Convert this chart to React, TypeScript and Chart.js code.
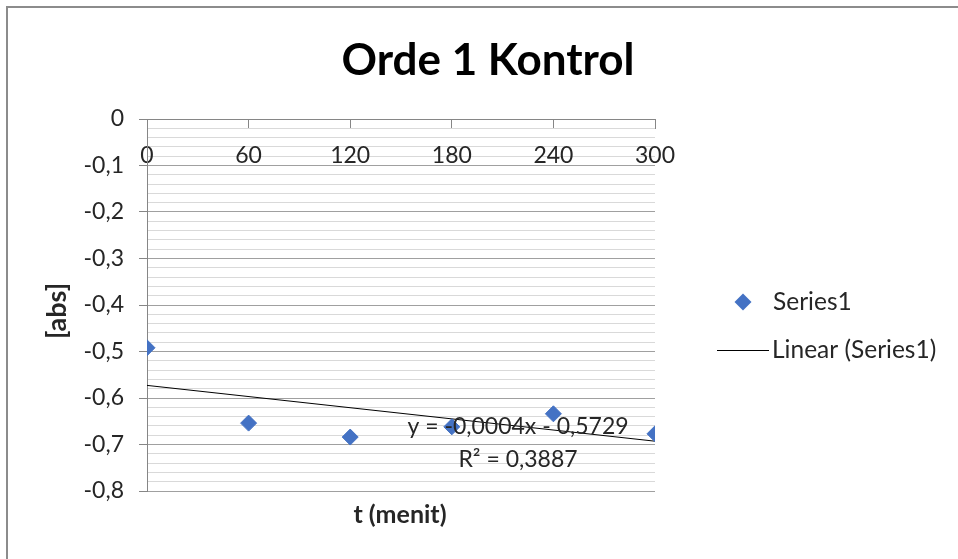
import React, { useEffect, useRef } from 'react';
import { Chart, registerables } from 'chart.js';

Chart.register(...registerables);

// ---- data ----
const TITLE = 'Orde 1 Kontrol';
const X_TITLE = 't (menit)';
const Y_TITLE = '[abs]';
const SERIES_NAME = 'Series1';
const TREND_NAME = 'Linear (Series1)';
const TIME_MIN = [0, 60, 120, 180, 240, 300];
const ABS_VALUES = [-0.492, -0.654, -0.684, -0.662, -0.634, -0.677];
const TREND_SLOPE = -0.0004;
const TREND_INTERCEPT = -0.5729;
const TREND_EQUATION = 'y = -0,0004x - 0,5729';
const TREND_R2 = 'R² = 0,3887';
const X_MIN = 0;
const X_MAX = 300;
const X_STEP = 60;
const Y_MIN = -0.8;
const Y_MAX = 0;
const Y_MINOR = 0.02;

const FONT = 'Lato, "Open Sans", sans-serif';
const TEXT = '#262626';
const BLUE = '#4472C4';

const isMajor = (v: number) => Math.abs(Math.round(v * 10) - v * 10) < 1e-6;
const fmt = (v: number) => (Math.abs(v) < 1e-9 ? '0' : v.toFixed(1).replace('.', ','));

const decor = {
  id: 'decor',
  beforeDraw(chart: any) {
    const c = chart.ctx;
    c.save();
    c.fillStyle = '#ffffff';
    c.fillRect(0, 0, chart.width, chart.height);
    c.fillStyle = '#8c8c8c';
    c.fillRect(6, 6, chart.width, 2);
    c.fillRect(6, 6, 2, chart.height);
    c.restore();
  },
  afterDatasetsDraw(chart: any) {
    const c = chart.ctx;
    c.save();
    c.fillStyle = TEXT;
    c.font = `23px ${FONT}`;
    c.textAlign = 'center';
    c.textBaseline = 'alphabetic';
    c.fillText(TREND_EQUATION, 518, 434);
    c.fillText(TREND_R2, 518, 467);
    c.restore();
  },
  afterDraw(chart: any) {
    const c = chart.ctx;
    c.save();
    // title
    c.fillStyle = '#000';
    c.font = `bold 44px ${FONT}`;
    c.textAlign = 'center';
    c.textBaseline = 'alphabetic';
    c.fillText(TITLE, 488, 75);
    // x title
    c.fillStyle = TEXT;
    c.font = `bold 25px ${FONT}`;
    c.fillText(X_TITLE, 400, 523);
    // y title
    c.save();
    c.translate(57, 311);
    c.rotate(-Math.PI / 2);
    c.textBaseline = 'middle';
    c.font = `bold 27px ${FONT}`;
    c.fillText(Y_TITLE, 0, 0);
    c.restore();
    // legend
    c.fillStyle = BLUE;
    c.beginPath();
    c.moveTo(743 - 8.5, 302);
    c.lineTo(743, 302 - 8.5);
    c.lineTo(743 + 8.5, 302);
    c.lineTo(743, 302 + 8.5);
    c.closePath();
    c.fill();
    c.strokeStyle = '#000';
    c.lineWidth = 1;
    c.beginPath();
    c.moveTo(717, 350.5);
    c.lineTo(769, 350.5);
    c.stroke();
    c.fillStyle = TEXT;
    c.font = `24.5px ${FONT}`;
    c.textAlign = 'left';
    c.fillText(SERIES_NAME, 773, 310);
    c.fillText(TREND_NAME, 772, 358);
    c.restore();
  },
};

export default function App() {
  const ref = useRef<HTMLCanvasElement | null>(null);

  useEffect(() => {
    if (!ref.current) return;
    const points = TIME_MIN.map((x, i) => ({ x, y: ABS_VALUES[i] }));
    const trend = [X_MIN, X_MAX].map((x) => ({ x, y: TREND_INTERCEPT + TREND_SLOPE * x }));
    const chart = new Chart(ref.current, {
      type: 'scatter',
      data: {
        datasets: [
          {
            type: 'scatter',
            label: SERIES_NAME,
            data: points,
            backgroundColor: BLUE,
            borderColor: BLUE,
            borderWidth: 1,
            pointStyle: 'rectRot',
            pointRadius: 8,
          },
          {
            type: 'line',
            label: TREND_NAME,
            data: trend,
            borderColor: '#000000',
            borderWidth: 1,
            pointRadius: 0,
            fill: false,
          },
        ],
      } as any,
      options: {
        animation: false,
        responsive: false,
        events: [],
        layout: { padding: { left: 30, right: 303, top: 119, bottom: 68 } },
        plugins: {
          legend: { display: false },
          title: { display: false },
          tooltip: { enabled: false },
        },
        scales: {
          x: {
            type: 'linear',
            position: { y: 0 } as any,
            min: X_MIN,
            max: X_MAX,
            afterFit: (s: any) => {
              s.paddingLeft = 0;
              s.paddingRight = 0;
              s.paddingTop = 0;
              s.paddingBottom = 0;
            },
            border: { display: true, color: '#868686', width: 1 },
            grid: { drawOnChartArea: false, drawTicks: true, tickLength: 9, color: '#868686' },
            ticks: {
              stepSize: X_STEP,
              autoSkip: false,
              maxRotation: 0,
              padding: 14,
              color: TEXT,
              font: { family: FONT, size: 23 },
            },
          },
          y: {
            type: 'linear',
            min: Y_MIN,
            max: Y_MAX,
            afterFit: (s: any) => {
              s.width = 117;
              s.paddingTop = 0;
              s.paddingBottom = 0;
              s.paddingLeft = 0;
              s.paddingRight = 0;
            },
            border: { display: true, color: '#868686', width: 1 },
            grid: {
              color: (ctx: any) => (ctx.tick && isMajor(ctx.tick.value) ? '#a0a0a0' : '#d9d9d9'),
              tickColor: (ctx: any) => (ctx.tick && isMajor(ctx.tick.value) ? '#868686' : 'rgba(0,0,0,0)'),
              tickLength: 8,
              lineWidth: 1,
            },
            ticks: {
              stepSize: Y_MINOR,
              autoSkip: false,
              padding: 15,
              color: TEXT,
              font: { family: FONT, size: 23 },
              callback: (v: any) => (isMajor(Number(v)) ? fmt(Number(v)) : ''),
            },
          },
        },
      } as any,
      plugins: [decor],
    });
    return () => chart.destroy();
  }, []);

  return (
    <div style={{ position: 'absolute', left: 0, top: 0, width: 958, height: 559 }}>
      <canvas ref={ref} width={958} height={559} style={{ display: 'block' }} />
    </div>
  );
}
